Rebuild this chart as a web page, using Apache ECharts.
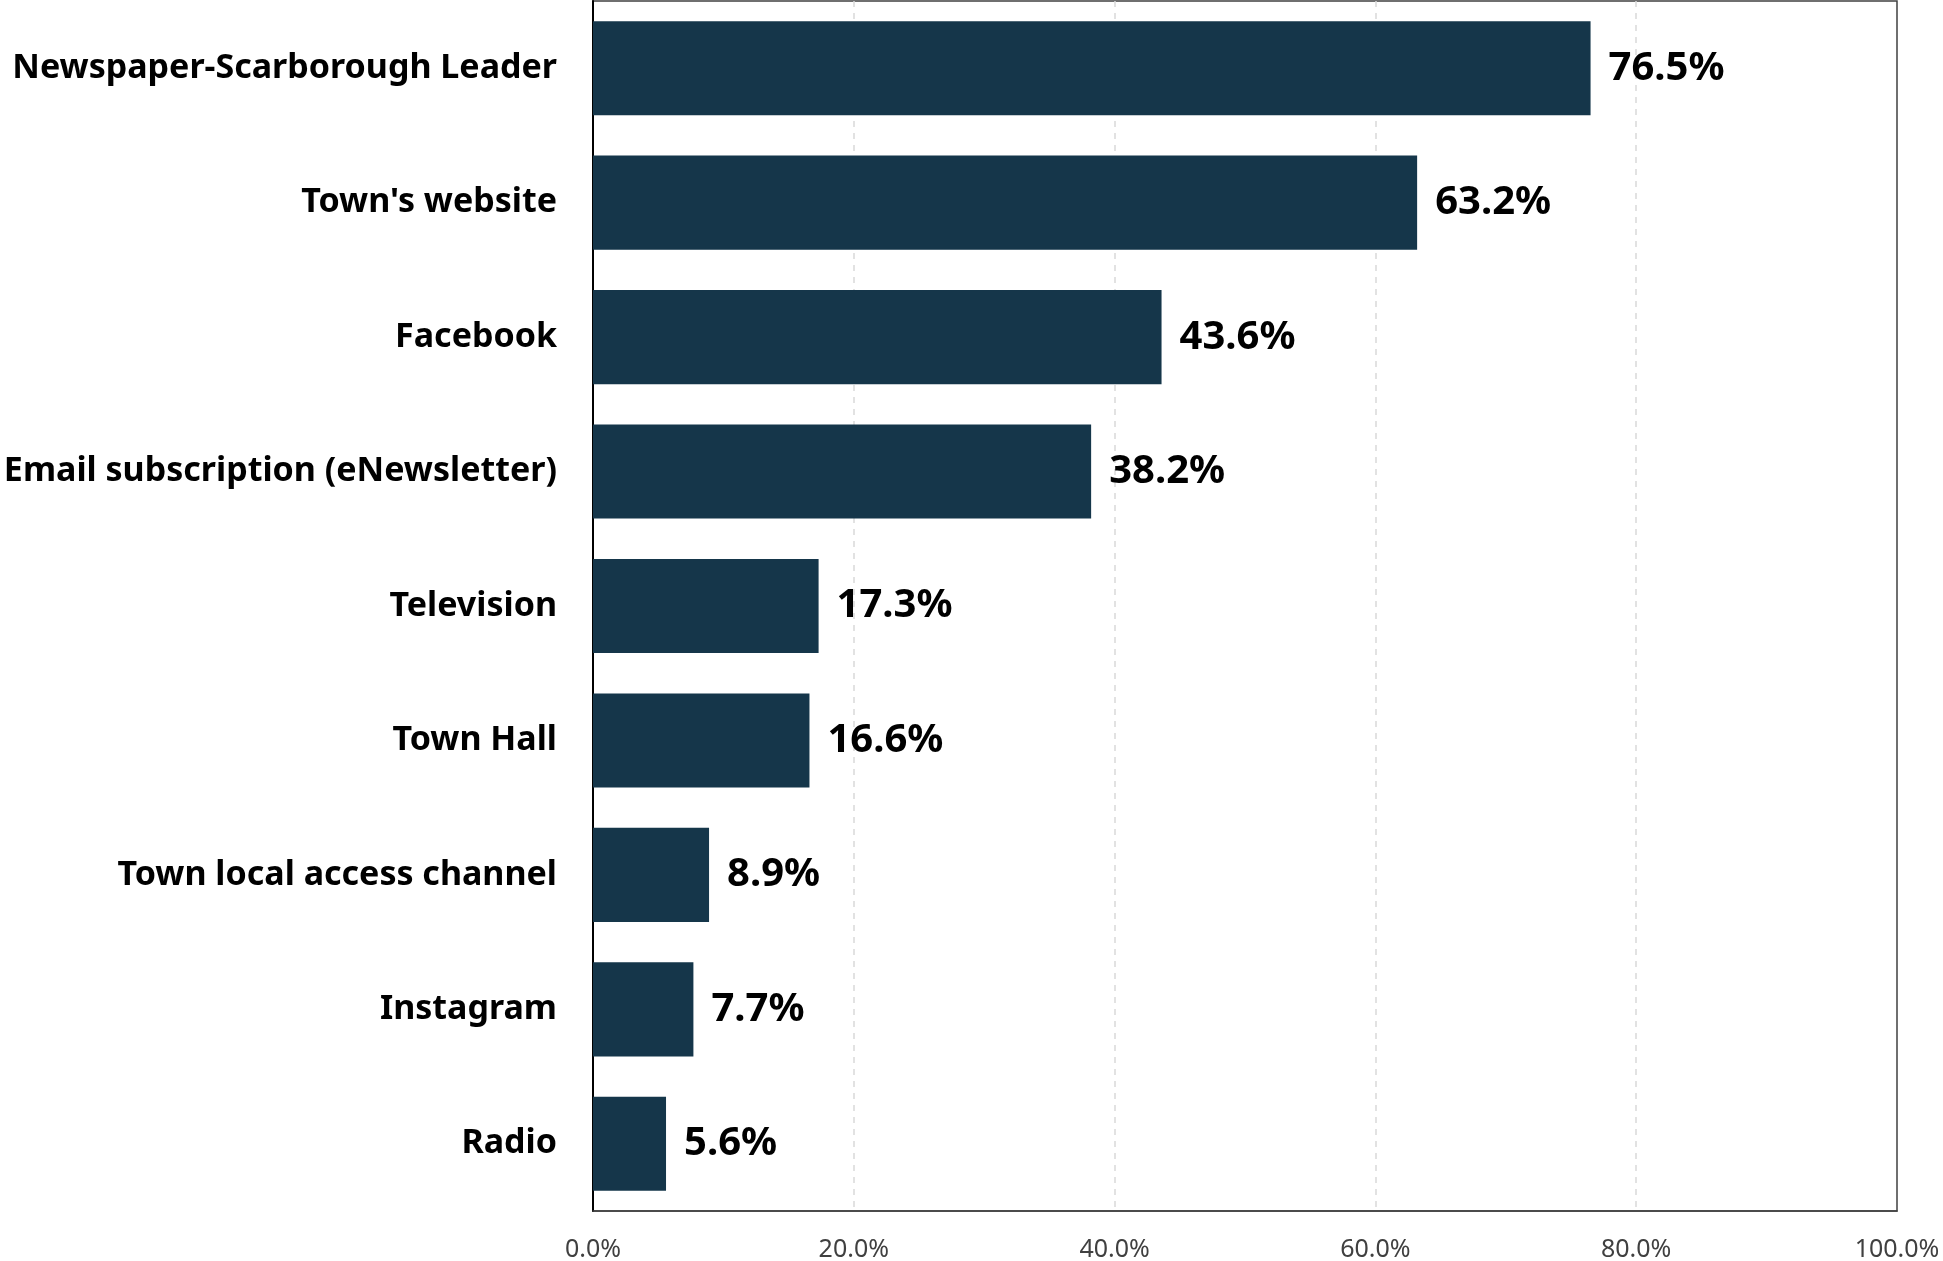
<!DOCTYPE html>
<html><head><meta charset="utf-8">
<script src="https://cdn.jsdelivr.net/npm/echarts@6/dist/echarts.min.js"></script>
<style>html,body{margin:0;padding:0;background:#fff}#c{width:1943px;height:1261px}</style>
</head><body><div id="c"></div>
<script>
var categories = ["Newspaper-Scarborough Leader","Town's website","Facebook","Email subscription (eNewsletter)","Television","Town Hall","Town local access channel","Instagram","Radio"];
var values = [76.5, 63.2, 43.6, 38.2, 17.3, 16.6, 8.9, 7.7, 5.6];
var xTicks = [0, 20, 40, 60, 80, 100];

var chart = echarts.init(document.getElementById('c'), null, {renderer:'canvas'});
chart.setOption({
  animation:false,
  grid:{left:593, right:46, top:1, bottom:50, show:true, borderColor:'#404040', borderWidth:1.5, containLabel:false, outerBoundsMode:'none'},
  xAxis:{type:'value', min:0, max:100, interval:20,
    axisLine:{show:true, lineStyle:{color:'#404040', width:1.5}},
    axisTick:{show:false},
    splitLine:{show:true, showMinLine:false, showMaxLine:false, lineStyle:{color:'#d9d9d9', type:[6,6], width:1.5}},
    axisLabel:{color:'#404040', fontSize:25, fontFamily:'Noto Sans', margin:26,
      formatter:function(v){return xTicks.indexOf(v)>=0 ? v.toFixed(1)+'%' : '';},
      alignMinLabel:'center', alignMaxLabel:'center'}
  },
  yAxis:{type:'category', data:categories, inverse:true,
    axisLine:{show:true, lineStyle:{color:'#000', width:2}},
    axisTick:{show:false},
    axisLabel:{color:'#000', fontSize:34, fontWeight:'bold', fontFamily:'Noto Sans', margin:36}
  },
  series:[{type:'bar', data:values, barWidth:'70%',
    itemStyle:{color:'#15364a'},
    label:{show:true, position:'right', distance:18, color:'#000', fontSize:40, fontWeight:'bold', fontFamily:'Noto Sans',
      formatter:function(p){return p.value.toFixed(1)+'%';}}
  }]
});
</script></body></html>
